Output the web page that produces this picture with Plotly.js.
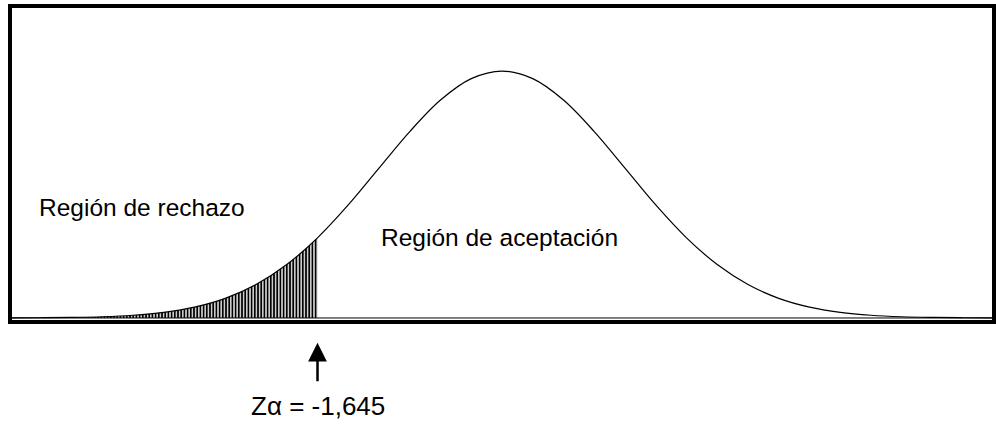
<!DOCTYPE html>
<html>
<head>
<meta charset="utf-8">
<script src="https://cdn.plot.ly/plotly-3.0.1.min.js"></script>
<style>html,body{margin:0;padding:0;background:#fff;}#chart{width:996px;height:441px;}</style>
</head>
<body>
<div id="chart"></div>
<script>
// z positions (in standard deviations) and curve heights
const zValues = [-4.00,-3.75,-3.50,-3.25,-3.00,-2.75,-2.50,-2.25,-2.00,-1.75,-1.50,-1.25,-1.00,-0.75,-0.50,-0.25,0.00,
                 0.25,0.50,0.75,1.00,1.25,1.50,1.75,2.00,2.25,2.50,2.75,3.00,3.25,3.50,3.75,4.00];
const density = [0.0001,0.0004,0.0009,0.0020,0.0044,0.0091,0.0175,0.0317,0.0540,0.0863,0.1295,0.1826,0.2420,0.3011,0.3521,0.3867,0.3989,
                 0.3867,0.3521,0.3011,0.2420,0.1826,0.1295,0.0863,0.0540,0.0317,0.0175,0.0091,0.0044,0.0020,0.0009,0.0004,0.0001];
// position of the critical value as drawn in the picture
const zCritDrawn = -1.5;
const labelReject = "Región de rechazo";
const labelAccept = "Región de aceptación";
const labelCrit = "Zα = -1,645";

const shadeX = [], shadeY = [];
for (let i = 0; i < zValues.length; i++) {
  if (zValues[i] <= zCritDrawn) { shadeX.push(zValues[i]); shadeY.push(density[i]); }
}

const font = {family: "Liberation Sans, Arial, sans-serif", size: 24.5, color: "#000"};
const fontCrit = {family: "Liberation Sans, Arial, sans-serif", size: 26, color: "#000"};

const traces = [
  {
    x: shadeX, y: shadeY, type: "scatter", mode: "lines",
    line: {width: 0, shape: "spline", smoothing: 1},
    fill: "tozeroy", fillcolor: "rgba(0,0,0,0)",
    fillpattern: {shape: "|", size: 3.2, solidity: 0.6, fgcolor: "#000", bgcolor: "#fff"},
    hoverinfo: "skip", showlegend: false
  },
  {
    x: zValues, y: density, type: "scatter", mode: "lines",
    line: {color: "#000", width: 1.2, shape: "spline", smoothing: 1},
    hoverinfo: "skip", showlegend: false
  }
];

const layout = {
  width: 996, height: 441,
  margin: {l: 10, r: 2, t: 6, b: 119},
  paper_bgcolor: "#fff", plot_bgcolor: "#fff",
  showlegend: false,
  xaxis: {range: [-4, 4], visible: false, fixedrange: true},
  yaxis: {range: [-0.0065, 0.504], visible: false, fixedrange: true},
  shapes: [
    {type: "line", xref: "paper", yref: "y", x0: 0, x1: 1, y0: 0, y1: 0, line: {color: "#000", width: 1}},
    {type: "rect", xref: "paper", yref: "paper", x0: 0, x1: 1, y0: 0, y1: 1, line: {color: "#000", width: 4}}
  ],
  annotations: [
    {xref: "paper", yref: "paper", x: 0.134, y: 0.361, text: labelReject, showarrow: false, font: font, xanchor: "center", yanchor: "middle"},
    {xref: "paper", yref: "paper", x: 0.497, y: 0.266, text: labelAccept, showarrow: false, font: font, xanchor: "center", yanchor: "middle"},
    {xref: "x", yref: "paper", x: zCritDrawn, y: -0.066, text: "", showarrow: true,
     ax: 0, ay: 40, arrowhead: 2, arrowsize: 1.5, arrowwidth: 2.5, arrowcolor: "#000"},
    {xref: "x", yref: "paper", x: zCritDrawn, y: -0.265, text: labelCrit, showarrow: false, font: fontCrit, xanchor: "center", yanchor: "middle"}
  ]
};

Plotly.newPlot("chart", traces, layout, {displayModeBar: false, staticPlot: true});
</script>
</body>
</html>
